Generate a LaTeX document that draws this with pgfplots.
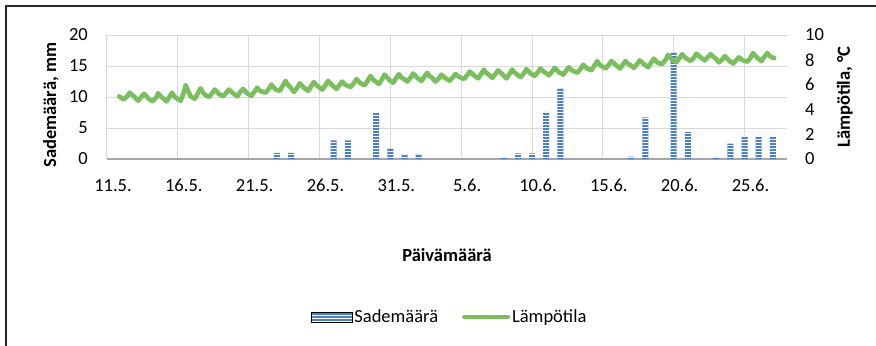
\documentclass[border=0pt]{standalone}
\usepackage{fontspec}
\setmainfont{Carlito}
\usepackage{pgfplots}
\pgfplotsset{compat=1.18}
\usetikzlibrary{patterns}
\definecolor{barblue}{RGB}{74,126,199}
\definecolor{tgreen}{RGB}{122,190,94}
\definecolor{gridc}{RGB}{217,217,217}
\definecolor{axisc}{RGB}{166,166,166}
\newcommand\fs{\fontsize{18.5bp}{22bp}\selectfont}
\begin{document}
\begin{tikzpicture}
\useasboundingbox (-107bp,-187bp) rectangle (769bp,159bp);
\draw[line width=1.5bp, black!85] (-101bp,-187bp) -- (-101bp,153bp) -- (769bp,153bp);
\begin{axis}[
  scale only axis, width=680bp, height=124bp,
  at={(0,0)}, anchor=south west,
  xmin=0, xmax=48, ymin=0, ymax=20,
  xtick={0,5,...,45},
  xticklabels={11.5.,16.5.,21.5.,26.5.,31.5.,5.6.,10.6.,15.6.,20.6.,25.6.},
  ytick={0,5,...,20},
  major tick length=0pt,
  grid=major,
  major grid style={gridc, line width=1bp},
  axis x line*=bottom, axis y line*=left,
  x axis line style={axisc, line width=2bp, -},
  y axis line style={draw=none},
  /pgf/number format/assume math mode=true,
  tick label style={font=\fs},
  xticklabel style={anchor=base, inner sep=0pt, yshift=-32bp, xshift=6bp},
  yticklabel style={anchor=east, inner sep=0pt, xshift=-19bp},
  ylabel={Sademäärä, mm},
  ylabel style={font=\fs\bfseries, at={(axis description cs:-0.0824,0.435)}, anchor=center},
  xlabel={Päivämäärä},
  xlabel style={font=\fs\bfseries, at={(axis description cs:0.5,-0.774)}, anchor=center},
]
\addplot[ybar, bar width=6bp, draw=none, fill=barblue,
  postaction={pattern=horizontal lines, pattern color=white}] coordinates {
(12,1.0) (13,1.0) (16,3.0) (17,3.0) (19,7.4) (20,1.7) (21,0.8) (22,0.7)
(28,0.3) (29,0.9) (30,0.9) (31,7.6) (32,11.4) (37,0.4) (38,6.7) (40,17.2)
(41,4.35) (43,0.2) (44,2.5) (45,3.7) (46,3.7) (47,3.7)
};
\end{axis}
\begin{axis}[
  scale only axis, width=680bp, height=124bp,
  at={(0,0)}, anchor=south west,
  xmin=0, xmax=48, ymin=0, ymax=10,
  hide x axis,
  axis y line*=right,
  y axis line style={draw=none},
  ytick={0,2,...,10},
  major tick length=0pt,
  /pgf/number format/assume math mode=true,
  tick label style={font=\fs},
  yticklabel style={anchor=west, inner sep=0pt, xshift=18bp},
  ylabel={Lämpötila, °C},
  ylabel style={font=\fs\bfseries, at={(axis description cs:1.085,0.5)}, anchor=center, rotate=0},
  legend columns=2,
  legend style={at={(axis description cs:0.504,-1.274)}, anchor=center, draw=none, fill=none, font=\fs,
    /tikz/every even column/.append style={column sep=22bp}},
]
\addlegendimage{legend image code/.code={
  \fill[barblue] (0bp,-5bp) rectangle (41bp,5bp);
  \fill[pattern=horizontal lines, pattern color=white] (0bp,-5bp) rectangle (41bp,5bp);}}
\addlegendentry{Sademäärä}
\addplot[tgreen, line width=4.6bp, line join=round, line cap=round,
  legend image code/.code={\draw[tgreen, line width=4bp, line cap=round] (0bp,0bp) -- (44bp,0bp);}]
  coordinates {
(0.85,5.05) (1.2,4.8) (1.45,5.1) (1.6,5.35) (1.9,5.05)
(2.2,4.7) (2.6,5.25) (2.75,5.1) (2.9,4.9)
(3.2,4.65) (3.5,5.0) (3.6,5.3) (3.9,4.95)
(4.2,4.65) (4.6,5.35) (4.75,5.05) (4.9,4.9)
(5.2,4.7) (5.4,5.3) (5.55,5.95) (5.9,5.05)
(6.2,4.85) (6.6,5.7) (6.75,5.4) (6.9,5.2)
(7.2,5.0) (7.45,5.35) (7.6,5.6) (7.9,5.25)
(8.2,5.05) (8.6,5.6) (8.75,5.45) (8.9,5.3)
(9.2,5.05) (9.4,5.4) (9.6,5.65) (9.9,5.3)
(10.2,5.1) (10.6,5.75) (10.75,5.55) (10.9,5.45)
(11.2,5.35) (11.45,5.7) (11.6,6.0) (11.9,5.6)
(12.2,5.5) (12.6,6.3) (12.75,6.0) (12.9,5.85)
(13.2,5.4) (13.45,5.8) (13.6,6.1) (13.9,5.75)
(14.2,5.5) (14.6,6.2) (14.75,6.0) (14.9,5.85)
(15.2,5.6) (15.45,6.0) (15.6,6.3) (15.9,5.95)
(16.2,5.65) (16.6,6.25) (16.75,6.05) (16.9,5.95)
(17.2,5.8) (17.45,6.15) (17.6,6.45) (17.9,6.1)
(18.2,5.95) (18.6,6.7) (18.75,6.45) (18.9,6.3)
(19.2,6.05) (19.45,6.5) (19.6,6.8) (19.9,6.4)
(20.2,6.15) (20.6,6.85) (20.75,6.6) (20.9,6.5)
(21.2,6.25) (21.45,6.6) (21.6,6.9) (21.9,6.55)
(22.2,6.3) (22.6,6.95) (22.75,6.7) (22.9,6.6)
(23.2,6.25) (23.45,6.55) (23.6,6.8) (23.9,6.5)
(24.2,6.3) (24.6,6.85) (24.75,6.7) (24.9,6.6)
(25.2,6.45) (25.45,6.8) (25.6,7.05) (25.9,6.75)
(26.2,6.5) (26.6,7.2) (26.75,6.95) (26.9,6.85)
(27.2,6.55) (27.45,6.9) (27.6,7.15) (27.9,6.85)
(28.2,6.5) (28.6,7.2) (28.75,7.0) (28.9,6.85)
(29.2,6.6) (29.45,6.95) (29.6,7.25) (29.9,6.9)
(30.2,6.7) (30.6,7.3) (30.75,7.1) (30.9,7.0)
(31.2,6.75) (31.45,7.1) (31.6,7.35) (31.9,7.0)
(32.2,6.8) (32.6,7.4) (32.75,7.2) (32.9,7.1)
(33.2,6.95) (33.45,7.3) (33.6,7.6) (33.9,7.3)
(34.2,7.15) (34.6,7.9) (34.75,7.6) (34.9,7.5)
(35.2,7.3) (35.45,7.65) (35.6,7.9) (35.9,7.6)
(36.2,7.3) (36.6,7.9) (36.75,7.7) (36.9,7.6)
(37.2,7.35) (37.45,7.7) (37.6,7.95) (37.9,7.65)
(38.2,7.4) (38.6,8.1) (38.75,7.9) (38.9,7.75)
(39.2,7.65) (39.45,8.05) (39.6,8.4) (39.9,8.0)
(40.2,7.8) (40.6,8.45) (40.75,8.25) (40.9,8.1)
(41.2,7.9) (41.45,8.2) (41.6,8.5) (41.9,8.2)
(42.2,7.95) (42.6,8.45) (42.75,8.3) (42.9,8.15)
(43.2,7.8) (43.45,8.05) (43.6,8.3) (43.9,7.95)
(44.2,7.7) (44.6,8.2) (44.75,8.05) (44.9,7.95)
(45.2,7.85) (45.45,8.2) (45.6,8.55) (45.9,8.15)
(46.2,7.9) (46.6,8.55) (46.75,8.35) (46.9,8.2)
(47.1,8.15)
};
\addlegendentry{Lämpötila}
\end{axis}
\end{tikzpicture}
\end{document}
